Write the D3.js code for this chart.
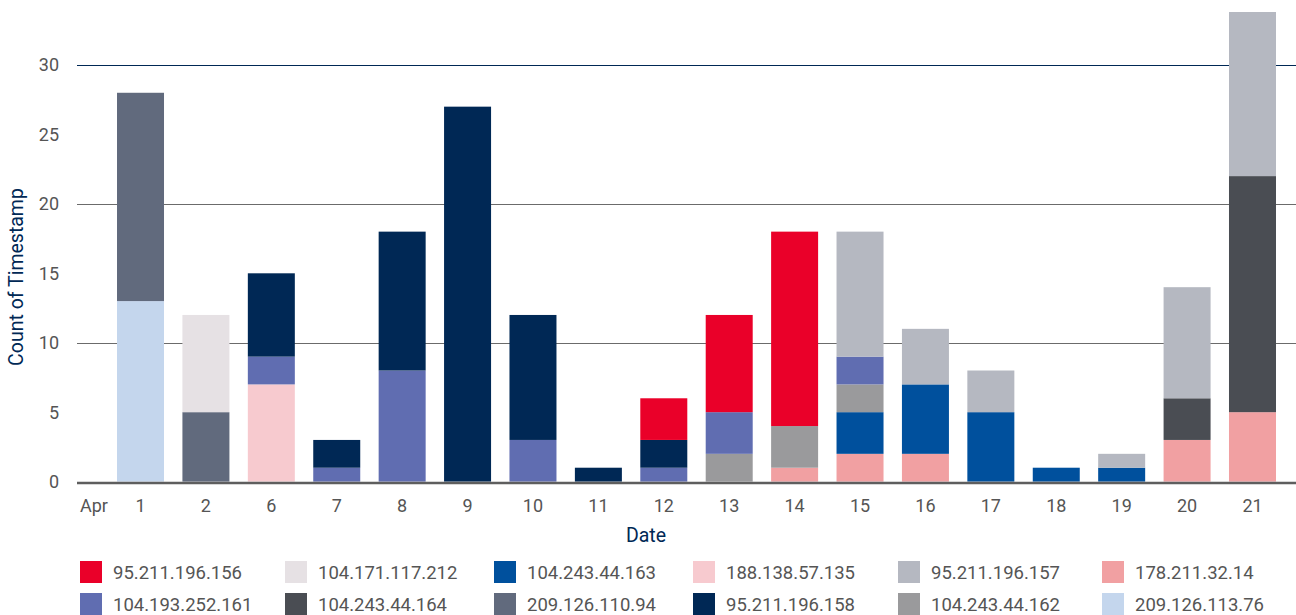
<!DOCTYPE html>
<html>
<head>
<meta charset="utf-8">
<script src="https://cdn.jsdelivr.net/npm/d3@7"></script>
<style>
  html, body { margin: 0; padding: 0; background: #fff; }
  svg { display: block; font-family: Roboto, "Liberation Sans", sans-serif; }
</style>
</head>
<body>
<svg id="chart" width="1296" height="615"></svg>
<script>
// ---- data ----
const dates = ["1","2","6","7","8","9","10","11","12","13","14","15","16","17","18","19","20","21"];
const legendOrder = ["95.211.196.156","104.171.117.212","104.243.44.163","188.138.57.135","95.211.196.157","178.211.32.14",
                     "104.193.252.161","104.243.44.164","209.126.110.94","95.211.196.158","104.243.44.162","209.126.113.76"];
const stackOrder = ["209.126.113.76","209.126.110.94","104.171.117.212","188.138.57.135","178.211.32.14","104.243.44.163",
                    "104.243.44.162","104.243.44.164","104.193.252.161","95.211.196.158","95.211.196.156","95.211.196.157"];
const colors = {
  "95.211.196.156": "#ea0029",
  "104.171.117.212": "#e6e1e4",
  "104.243.44.163": "#00509d",
  "188.138.57.135": "#f7cacf",
  "95.211.196.157": "#b5b8c1",
  "178.211.32.14": "#f1a0a2",
  "104.193.252.161": "#606db1",
  "104.243.44.164": "#4a4d53",
  "209.126.110.94": "#616a7d",
  "95.211.196.158": "#002855",
  "104.243.44.162": "#9a9a9c",
  "209.126.113.76": "#c4d6ed"
};
// values per series, aligned with dates
const s_95_211_196_156  = [0,0,0,0,0,0,0,0,3,7,14,0,0,0,0,0,0,0];
const s_104_171_117_212 = [0,7,0,0,0,0,0,0,0,0,0,0,0,0,0,0,0,0];
const s_104_243_44_163  = [0,0,0,0,0,0,0,0,0,0,0,3,5,5,1,1,0,0];
const s_188_138_57_135  = [0,0,7,0,0,0,0,0,0,0,0,0,0,0,0,0,0,0];
const s_95_211_196_157  = [0,0,0,0,0,0,0,0,0,0,0,9,4,3,0,1,8,12];
const s_178_211_32_14   = [0,0,0,0,0,0,0,0,0,0,1,2,2,0,0,0,3,5];
const s_104_193_252_161 = [0,0,2,1,8,0,3,0,1,3,0,2,0,0,0,0,0,0];
const s_104_243_44_164  = [0,0,0,0,0,0,0,0,0,0,0,0,0,0,0,0,3,17];
const s_209_126_110_94  = [15,5,0,0,0,0,0,0,0,0,0,0,0,0,0,0,0,0];
const s_95_211_196_158  = [0,0,6,2,10,27,9,1,2,0,0,0,0,0,0,0,0,0];
const s_104_243_44_162  = [0,0,0,0,0,0,0,0,0,2,3,2,0,0,0,0,0,0];
const s_209_126_113_76  = [13,0,0,0,0,0,0,0,0,0,0,0,0,0,0,0,0,0];
const yTicks = [0,5,10,15,20,25,30];
const gridTicks = [10,20,30];

const seriesValues = {
  "95.211.196.156": s_95_211_196_156, "104.171.117.212": s_104_171_117_212,
  "104.243.44.163": s_104_243_44_163, "188.138.57.135": s_188_138_57_135,
  "95.211.196.157": s_95_211_196_157, "178.211.32.14": s_178_211_32_14,
  "104.193.252.161": s_104_193_252_161, "104.243.44.164": s_104_243_44_164,
  "209.126.110.94": s_209_126_110_94, "95.211.196.158": s_95_211_196_158,
  "104.243.44.162": s_104_243_44_162, "209.126.113.76": s_209_126_113_76
};
const table = dates.map((d, i) => {
  const row = { date: d };
  for (const k of stackOrder) row[k] = seriesValues[k][i];
  return row;
});

// ---- chart ----
const svg = d3.select("#chart");
const x = d3.scaleBand().domain(dates).range([107.8, 1285.2]).paddingInner(0.2815).paddingOuter(0.1408);
const y = d3.scaleLinear().domain([0, 30]).range([481.6, 65]);
const tickColor = "#555";

// clip
svg.append("defs").append("clipPath").attr("id", "plotclip")
  .append("rect").attr("x", 0).attr("y", 12).attr("width", 1296).attr("height", 480);

// grid lines
svg.append("g").selectAll("line").data(gridTicks).join("line")
  .attr("x1", 77).attr("x2", 1296)
  .attr("y1", d => Math.round(y(d)) + 0.5).attr("y2", d => Math.round(y(d)) + 0.5)
  .attr("stroke", d => d === 30 ? "#002855" : "#6b6b6b").attr("stroke-width", 1);

// y tick labels
svg.append("g").selectAll("text").data(yTicks).join("text")
  .attr("x", 59).attr("y", d => y(d)).attr("dy", "0.36em")
  .attr("text-anchor", "end").attr("fill", tickColor).style("font-size", "18px")
  .text(d => d);

// bars
const stacked = d3.stack().keys(stackOrder)(table);
svg.append("g").attr("clip-path", "url(#plotclip)")
  .selectAll("g").data(stacked).join("g").attr("fill", s => colors[s.key])
  .selectAll("rect").data(s => s.filter(p => p[1] - p[0] > 0)).join("rect")
  .attr("x", p => x(p.data.date)).attr("width", x.bandwidth())
  .attr("y", p => y(p[1])).attr("height", p => y(p[0]) - y(p[1]));

// baseline
svg.append("line").attr("x1", 77).attr("x2", 1296).attr("y1", 483).attr("y2", 483)
  .attr("stroke", "#5e5e5e").attr("stroke-width", 2.5);

// x tick labels
const xAxis = d3.axisBottom(x).tickSize(0).tickPadding(0);
const gx = svg.append("g").attr("transform", "translate(0,499)").call(xAxis);
gx.select(".domain").remove();
gx.selectAll("text").attr("fill", tickColor).style("font-size", "18px")
  .style("font-family", "Roboto, 'Liberation Sans', sans-serif").attr("dy", "0.71em").attr("y", 0);
svg.append("text").attr("x", 80).attr("y", 499).attr("dy", "0.71em").attr("fill", tickColor)
  .style("font-size", "18px").text("Apr");

// axis titles
svg.append("text").attr("transform", "translate(23,277) rotate(-90)").attr("text-anchor", "middle")
  .attr("fill", "#002855").style("font-size", "19.5px").text("Count of Timestamp");
svg.append("text").attr("x", 646).attr("y", 542).attr("text-anchor", "middle")
  .attr("fill", "#002855").style("font-size", "19.5px").text("Date");

// legend
const colX = [80, 285, 494, 693, 898, 1102];
const rowY = [561, 593];
const lg = svg.append("g").selectAll("g").data(legendOrder).join("g")
  .attr("transform", (d, i) => `translate(${colX[i % 6]},${rowY[Math.floor(i / 6)]})`);
lg.append("rect").attr("width", 22).attr("height", 22).attr("fill", d => colors[d]);
lg.append("text").attr("x", 33).attr("y", 11).attr("dy", "0.36em").attr("fill", tickColor)
  .style("font-size", "18.5px").text(d => d);
</script>
</body>
</html>
